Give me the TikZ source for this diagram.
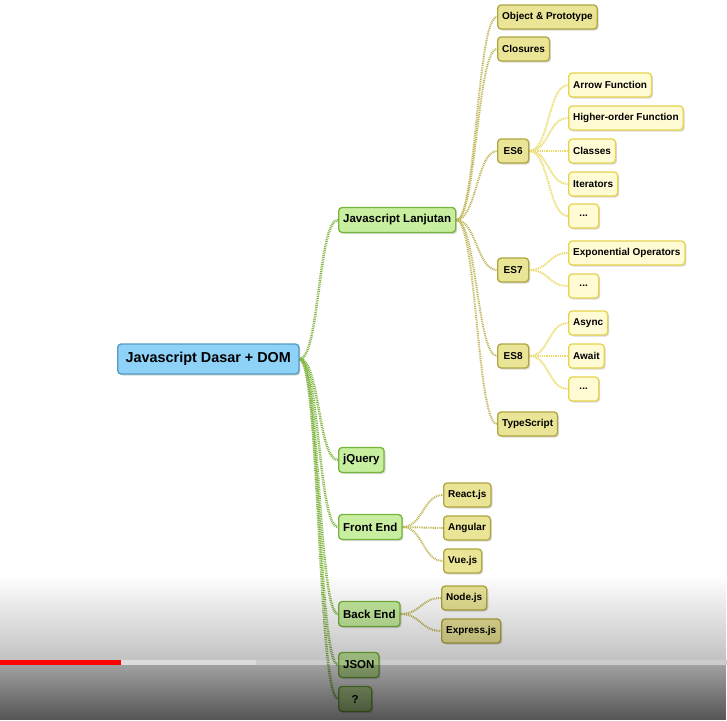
\documentclass[tikz,border=0pt]{standalone}
\usepackage{fontspec}
\setmainfont{Liberation Sans}
\usetikzlibrary{shadows,fadings}
\definecolor{rootfill}{RGB}{142,210,247}
\definecolor{rootdraw}{RGB}{84,154,192}
\definecolor{greenfill}{RGB}{200,238,160}
\definecolor{greendraw}{RGB}{118,180,60}
\definecolor{khakifill}{RGB}{234,228,150}
\definecolor{khakidraw}{RGB}{176,166,64}
\definecolor{yellowfill}{RGB}{255,251,212}
\definecolor{yellowdraw}{RGB}{230,212,76}
\definecolor{greenline}{RGB}{130,182,66}
\definecolor{khakiline}{RGB}{190,180,80}
\definecolor{yellowline}{RGB}{236,218,96}
\definecolor{bargray}{RGB}{220,220,220}
\tikzfading[name=fadeupper, top color=transparent!100, middle color=transparent!91, bottom color=transparent!76]
\tikzfading[name=fadelower, top color=transparent!63, bottom color=transparent!33]
\pgfdeclarelayer{bgzero}
\pgfdeclarelayer{links}
\pgfsetlayers{bgzero,links,main}
\tikzset{
  box/.style={rounded corners=3.5pt, line width=1.3pt, text=black,
    font=\bfseries\fontsize{10}{12}\selectfont, inner xsep=4.5pt, inner ysep=0pt,
    minimum height=24pt, anchor=west,
    drop shadow={shadow xshift=1.5pt, shadow yshift=-1.5pt, opacity=0.3}},
  rootbox/.style={box, fill=rootfill, draw=rootdraw,
    font=\bfseries\fontsize{14.4}{17}\selectfont, minimum height=30pt, inner xsep=8pt},
  lone/.style={box, fill=greenfill, draw=greendraw,
    font=\bfseries\fontsize{11.5}{14}\selectfont, minimum height=25pt},
  ltwo/.style={box, fill=khakifill, draw=khakidraw},
  lthree/.style={box, fill=yellowfill, draw=yellowdraw},
  rootlink/.style={draw=greenline, line width=2.6pt, dash pattern=on 0.9pt off 0.9pt},
  khakilink/.style={draw=khakiline, line width=2pt, dash pattern=on 0.9pt off 0.9pt},
  yellowlink/.style={draw=yellowline, line width=2pt, dash pattern=on 0.9pt off 0.9pt}
}
\newcommand\mlink[3]{\draw[#1] (#2.east) .. controls +(20,0) and +(-20,0) .. (#3.west);}
\begin{document}
\begin{tikzpicture}[x=1pt,y=-1pt]
\begin{pgfonlayer}{bgzero}
\fill[white] (0,0) rectangle (727,720);
\end{pgfonlayer}
\useasboundingbox (0,0) rectangle (727,720);
% root
\node[rootbox] (root) at (117,359) {Javascript Dasar + DOM};
% level 1
\node[lone] (jsl) at (338,220) {Javascript Lanjutan};
\node[lone] (jq) at (338,460) {jQuery};
\node[lone] (fe) at (338,527) {Front End};
\node[lone] (be) at (338,614) {Back End};
\node[lone] (json) at (338,665) {JSON};
\node[lone, minimum width=33pt] (q) at (338,699) {?};
% level 2
\node[ltwo] (oop) at (497,17) {Object \& Prototype};
\node[ltwo] (clo) at (497,49) {Closures};
\node[ltwo, minimum width=31pt] (es6) at (497,151) {ES6};
\node[ltwo, minimum width=31pt] (es7) at (497,270) {ES7};
\node[ltwo, minimum width=31pt] (es8) at (497,356) {ES8};
\node[ltwo] (ts) at (497,424) {TypeScript};
% level 3
\node[lthree] (arrow) at (568,85) {Arrow Function};
\node[lthree] (hof) at (568,118) {Higher-order Function};
\node[lthree] (cls) at (568,151) {Classes};
\node[lthree] (itr) at (568,184) {Iterators};
\node[lthree, minimum width=30pt] (da) at (568,216) {...};
\node[lthree] (expo) at (568,253) {Exponential Operators};
\node[lthree, minimum width=30pt] (db) at (568,286) {...};
\node[lthree] (async) at (568,323) {Async};
\node[lthree] (await) at (568,356) {Await};
\node[lthree, minimum width=30pt] (dc) at (568,389) {...};
% front / back end children
\node[ltwo] (react) at (443,495) {React.js};
\node[ltwo] (ang) at (443,528) {Angular};
\node[ltwo] (vue) at (443,561) {Vue.js};
\node[ltwo] (nodejs) at (441,598) {Node.js};
\node[ltwo] (expr) at (441,631) {Express.js};
% links
\begin{pgfonlayer}{links}
\foreach \c in {jsl,jq,fe,be,json,q} {\mlink{rootlink}{root}{\c}}
\foreach \c in {oop,clo,es6,es7,es8,ts} {\mlink{khakilink}{jsl}{\c}}
\foreach \c in {arrow,hof,cls,itr,da} {\mlink{yellowlink}{es6}{\c}}
\foreach \c in {expo,db} {\mlink{yellowlink}{es7}{\c}}
\foreach \c in {async,await,dc} {\mlink{yellowlink}{es8}{\c}}
\foreach \c in {react,ang,vue} {\mlink{khakilink}{fe}{\c}}
\foreach \c in {nodejs,expr} {\mlink{khakilink}{be}{\c}}
\end{pgfonlayer}
% video overlay
\fill[black, path fading=fadeupper] (0,575) rectangle (727,660);
\fill[black, path fading=fadelower] (0,665) rectangle (727,720);
\fill[black, opacity=0.2] (256,660) rectangle (727,665);
\fill[bargray] (121,660) rectangle (256,665);
\fill[red] (0,660) rectangle (121,665);
\end{tikzpicture}
\end{document}
